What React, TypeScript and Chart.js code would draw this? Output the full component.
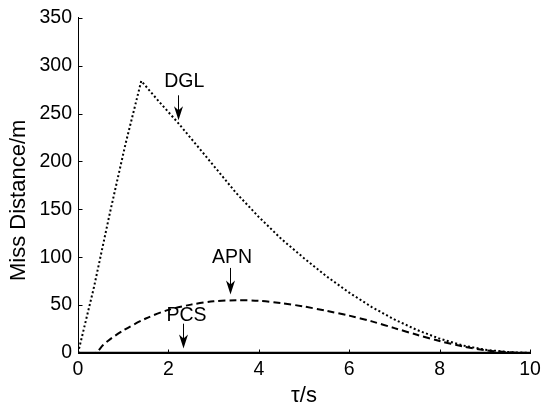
import { useEffect, useRef } from "react";
import { Chart, registerables } from "chart.js";

Chart.register(...registerables);

// Miss distance (m) against time-to-go τ (s) for the three guidance laws
const dglTime = [0, 0.35, 0.7, 1.05, 1.4, 1.8, 2.2, 2.8, 3.5, 4.0, 4.5, 5.0, 5.5, 6.0, 6.5, 7.0, 7.5, 8.0, 8.5, 9.0, 9.5, 10];
const dglMiss = [0, 68, 145, 218, 284, 262, 241, 207, 167, 142, 119, 99, 80, 63, 48, 35, 24, 15, 8, 3.5, 1, 0];

const apnTime = [0, 0.38, 0.55, 0.7, 1.0, 1.5, 2.0, 2.5, 3.0, 3.5, 4.0, 4.5, 5.0, 5.5, 6.0, 6.5, 7.0, 7.5, 8.0, 8.5, 9.0, 9.5, 10];
const apnMiss = [0, 0, 8, 14, 23.5, 36, 45, 50.5, 54, 55, 54.5, 52, 48.5, 44, 39, 33, 26, 19, 12.5, 7, 3, 0.8, 0];

const pcsTime = [0, 10];
const pcsMiss = [0, 0];

const xTicks = [0, 2, 4, 6, 8, 10];
const yTicks = [0, 50, 100, 150, 200, 250, 300, 350];

// Curve labels with their pointer arrows (data coordinates)
const noteText = ["DGL", "APN", "PCS"];
const noteTextX = [2.35, 3.41, 2.4];
const noteTextY = [283.5, 100, 38.8];
const arrowX = [2.21, 3.37, 2.33];
const arrowTop = [269, 88.8, 30.6];
const arrowTip = [243, 61, 4.8];

const yTitle = "Miss Distance/m";
const xTitle = "τ/s";

const FONT = "'Liberation Sans', Arial, Helvetica, sans-serif";

const pts = (xs: number[], ys: number[]) => xs.map((x, i) => ({ x, y: ys[i] }));

const annotatePlugin = {
  id: "annotate",
  afterDatasetsDraw(chart: any) {
    const { ctx, chartArea } = chart;
    const xs = chart.scales.x;
    const ys = chart.scales.y;
    ctx.save();
    ctx.strokeStyle = "#000";
    ctx.fillStyle = "#000";
    ctx.lineWidth = 1;

    // inward tick marks
    const left = Math.round(chartArea.left) + 0.5;
    const bottom = Math.round(chartArea.bottom) + 0.5;
    yTicks.forEach((v) => {
      const py = Math.round(ys.getPixelForValue(v)) + 0.5;
      ctx.beginPath();
      ctx.moveTo(left, py);
      ctx.lineTo(left + 4, py);
      ctx.stroke();
    });
    xTicks.forEach((v) => {
      const px = Math.round(xs.getPixelForValue(v)) + 0.5;
      ctx.beginPath();
      ctx.moveTo(px, bottom);
      ctx.lineTo(px, bottom - 4);
      ctx.stroke();
    });

    // curve labels and arrows
    ctx.font = `19.5px ${FONT}`;
    ctx.textAlign = "center";
    ctx.textBaseline = "middle";
    noteText.forEach((t, i) => {
      ctx.fillText(t, xs.getPixelForValue(noteTextX[i]), ys.getPixelForValue(noteTextY[i]));
      const ax = Math.round(xs.getPixelForValue(arrowX[i])) + 0.5;
      const top = ys.getPixelForValue(arrowTop[i]);
      const tip = ys.getPixelForValue(arrowTip[i]);
      ctx.beginPath();
      ctx.moveTo(ax, top);
      ctx.lineTo(ax, tip - 8);
      ctx.stroke();
      ctx.beginPath();
      ctx.moveTo(ax, tip);
      ctx.lineTo(ax - 4.5, tip - 14);
      ctx.lineTo(ax, tip - 10);
      ctx.lineTo(ax + 4.5, tip - 14);
      ctx.closePath();
      ctx.fill();
    });

    // vertical axis title
    ctx.save();
    ctx.translate(19, (chartArea.top + chartArea.bottom) / 2 + 15);
    ctx.rotate(-Math.PI / 2);
    ctx.font = `22px ${FONT}`;
    ctx.fillText(yTitle, 0, 0);
    ctx.restore();

    ctx.restore();
  },
};

export default function App() {
  const canvasRef = useRef<HTMLCanvasElement | null>(null);

  useEffect(() => {
    if (!canvasRef.current) return;
    const chart = new Chart(canvasRef.current, {
      type: "line",
      data: {
        datasets: [
          {
            label: "PCS",
            data: pts(pcsTime, pcsMiss),
            borderColor: "#000",
            borderWidth: 2.5,
            pointRadius: 0,
            tension: 0,
          },
          {
            label: "APN",
            data: pts(apnTime, apnMiss),
            borderColor: "#000",
            borderWidth: 2,
            borderDash: [7, 4],
            pointRadius: 0,
            tension: 0.3,
          },
          {
            label: "DGL",
            data: pts(dglTime, dglMiss),
            borderColor: "#000",
            borderWidth: 2,
            borderDash: [2, 2.4],
            pointRadius: 0,
            tension: 0,
          },
        ],
      },
      options: {
        animation: false,
        responsive: false,
        events: [],
        layout: { padding: { top: 10, right: 16, left: 0, bottom: 0 } },
        plugins: {
          legend: { display: false },
          tooltip: { enabled: false },
        },
        scales: {
          x: {
            type: "linear",
            min: 0,
            max: 10,
            afterFit: (s: any) => {
              s.height = 57;
            },
            afterBuildTicks: (s: any) => {
              s.ticks = xTicks.map((v) => ({ value: v }));
            },
            grid: { display: false, drawTicks: false },
            border: { display: true, color: "#000", width: 1 },
            ticks: {
              color: "#000",
              font: { family: FONT, size: 19.5 },
              padding: 5,
              maxRotation: 0,
            },
            title: {
              display: true,
              text: xTitle,
              color: "#000",
              font: { family: FONT, size: 22, lineHeight: 1.2 },
              padding: { top: 0, bottom: 1 },
            },
          },
          y: {
            type: "linear",
            min: 0,
            max: 350,
            afterFit: (s: any) => {
              s.width = 78;
            },
            afterBuildTicks: (s: any) => {
              s.ticks = yTicks.map((v) => ({ value: v }));
            },
            grid: { display: false, drawTicks: false },
            border: { display: true, color: "#000", width: 1 },
            ticks: {
              color: "#000",
              font: { family: FONT, size: 19.5 },
              padding: 6,
            },
          },
        },
      },
      plugins: [annotatePlugin],
    });
    return () => chart.destroy();
  }, []);

  return (
    <div style={{ position: "fixed", left: 0, top: 0, width: 546, height: 410, background: "#fff" }}>
      <canvas ref={canvasRef} width={546} height={410} style={{ display: "block" }} />
    </div>
  );
}
